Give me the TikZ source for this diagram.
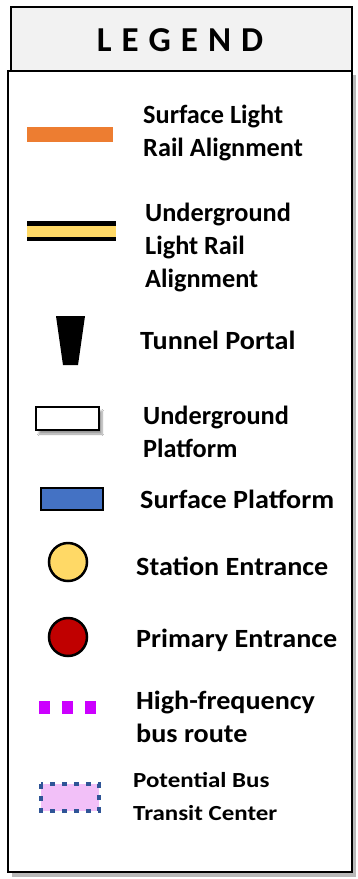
\documentclass[tikz,border=0pt]{standalone}
\usepackage{fontspec}
\setmainfont{Carlito}
\newfontfamily\widefont[FakeStretch=1.07]{Carlito}
\newfontfamily\widerfont[FakeStretch=1.16]{Carlito}
\usetikzlibrary{shadows.blur}

\definecolor{railorange}{HTML}{ED7D31}
\definecolor{railyellow}{HTML}{FFD966}
\definecolor{platblue}{HTML}{4472C4}
\definecolor{entred}{HTML}{C00000}
\definecolor{busmagenta}{HTML}{CC00FF}
\definecolor{hubpink}{HTML}{F2C0F8}
\definecolor{hubblue}{HTML}{2F5597}
\definecolor{headgray}{HTML}{F2F2F2}

\begin{document}
\begin{tikzpicture}[x=1pt,y=-1pt,
    lbl/.style={anchor=west,inner sep=0pt,align=left,font=\bfseries\fontsize{26.3}{33}\selectfont},
    widelbl/.style={lbl,font=\widefont\bfseries\fontsize{26.3}{33}\selectfont}]
\useasboundingbox (0,0) rectangle (358,879);
% frame and header
\fill[gray!55] (12,75) rectangle (356,877);
\draw[line width=2.5pt,fill=white] (8,71) rectangle (352,872);
\draw[line width=2pt,fill=headgray] (11,7) rectangle (352,71);
\node[inner sep=0pt,font=\bfseries\fontsize{35}{40}\selectfont] (title) at (180,40)
  {L\hspace{10pt}E\hspace{10pt}G\hspace{10pt}E\hspace{10pt}N\hspace{10pt}D};

% symbols
\draw[railorange,line width=15pt] (27,134) -- (113,134);
\draw[black,line width=20pt] (27,231) -- (116,231);
\draw[railyellow,line width=11pt] (27,231) -- (116,231);
\fill[black] (56,316) -- (85,316) -- (78,365) -- (63,365) -- cycle;
\draw[line width=2.5pt,fill=white,blur shadow={shadow xshift=3pt,shadow yshift=-4pt,shadow blur steps=6}]
  (36,407) rectangle (99,430);
\draw[line width=2.5pt,fill=platblue] (41,488) rectangle (103,510);
\draw[line width=2.5pt,fill=railyellow] (68,562) circle (19);
\draw[line width=2.5pt,fill=entred] (68,637) circle (19);
\draw[busmagenta,line width=13pt,dash pattern=on 11pt off 12pt] (39,707) -- (97,707);
\draw[hubblue,line width=4pt,fill=hubpink,dash pattern=on 5pt off 7pt] (41,784) rectangle (99,811);

% labels
\node[lbl] (surf) at (143,133) {Surface Light\\Rail Alignment};
\node[lbl] (under) at (145,247) {Underground\\Light Rail\\Alignment};
\node[widelbl] (portal) at (140,340) {Tunnel Portal};
\node[lbl] (uplat) at (143,432) {Underground\\Platform};
\node[widelbl] (splat) at (140,499) {Surface Platform};
\node[widelbl] (stent) at (136,566) {Station Entrance};
\node[widelbl] (prent) at (136,640) {Primary Entrance};
\node[widelbl] (hfbus) at (136,717) {High-frequency\\bus route};
\node[lbl,font=\widerfont\bfseries\fontsize{21.5}{33}\selectfont] (btc) at (133,797) {Potential Bus\\Transit Center};
\end{tikzpicture}
\end{document}
